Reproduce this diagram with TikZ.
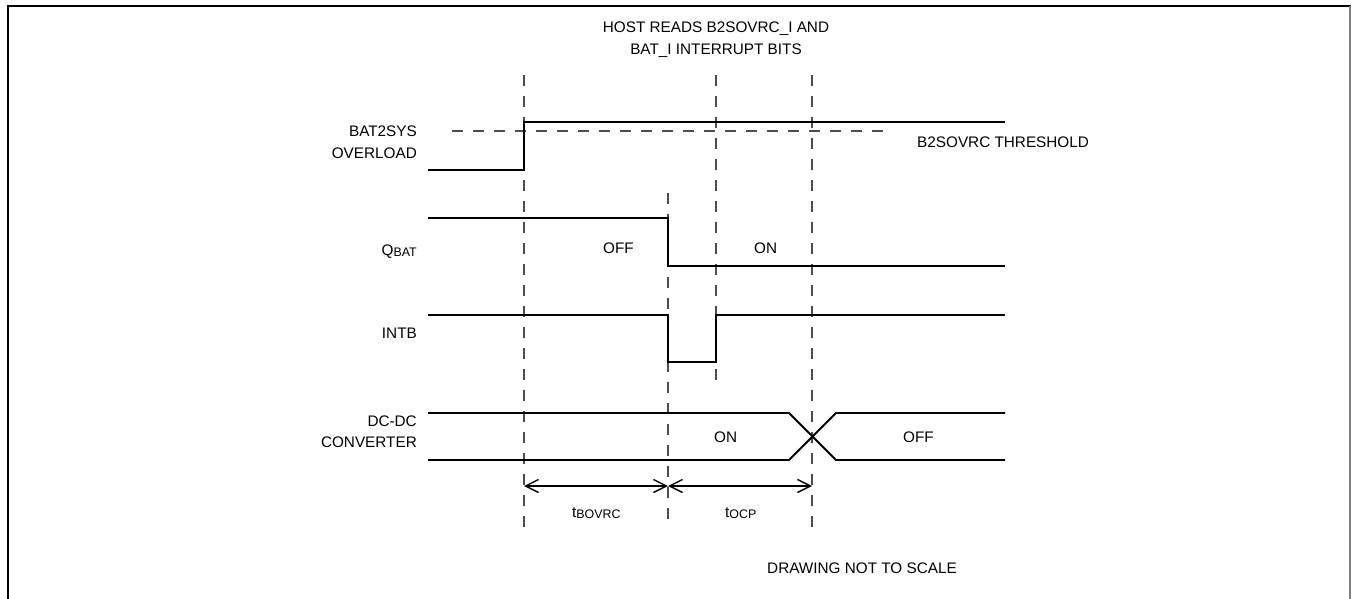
\documentclass[tikz,border=0pt]{standalone}
\usepackage{fontspec}
\setmainfont{Liberation Sans}
\usetikzlibrary{arrows.meta}
\newcommand\subtxt[1]{{\fontsize{12.4}{12}\selectfont\raisebox{-1.5pt}{#1}}}
\begin{document}
\begin{tikzpicture}[x=1pt,y=-1pt,
  sig/.style={line width=1.8pt, line join=miter},
  grid/.style={line width=1.3pt, draw=black!70, dash pattern=on 11pt off 10pt},
  lbl/.style={inner sep=0pt, font=\fontsize{15.3}{18}\selectfont},
  dim/.style={line width=1.4pt, {Straight Barb[length=13pt,width=13pt]}-{Straight Barb[length=13pt,width=13pt]}},
  frame/.style={line width=2pt}
]
\useasboundingbox (0,0) rectangle (1351,599);
% frame
\draw[frame] (8,599) -- (8,6) -- (1351,6);
\draw[line width=1.5pt, black!50] (1350,6) -- (1350,599);
% time markers
\coordinate (t1a) at (524,75);  \coordinate (t1b) at (524,530);
\coordinate (t2a) at (668,193); \coordinate (t2b) at (668,524);
\coordinate (t3a) at (716,75);  \coordinate (t3b) at (716,387);
\coordinate (t4a) at (812,75);  \coordinate (t4b) at (812,530);
\draw[grid] (t1a) -- (t1b);
\draw[grid] (t2a) -- (t2b);
\draw[grid] (t3a) -- (t3b);
\draw[grid] (t4a) -- (t4b);
% threshold
\coordinate (th1) at (452,131); \coordinate (th2) at (893,131);
\draw[grid] (th1) -- (th2);
% BAT2SYS overload
\draw[sig] (428,170) -- (524,170) -- (524,122) -- (1005,122);
% QBAT
\draw[sig] (428,218) -- (668,218) -- (668,266) -- (1005,266);
% INTB
\draw[sig] (428,315) -- (668,315) -- (668,362) -- (716,362) -- (716,315) -- (1005,315);
% DC-DC converter
\draw[sig] (428,413) -- (789,413) -- (836,460) -- (1005,460);
\draw[sig] (428,460) -- (789,460) -- (836,413) -- (1005,413);
% dimension arrows
\coordinate (d1) at (524,486); \coordinate (d2) at (668,486); \coordinate (d3) at (812,486);
\draw[dim] (d1) -- (d2);
\draw[dim] (d2) -- (d3);
% texts
\node[lbl, anchor=base] (title1) at (716,33) {HOST READS B2SOVRC\_I AND};
\node[lbl, anchor=base] (title2) at (716,55) {BAT\_I INTERRUPT BITS};
\node[lbl, anchor=base east] (ov1) at (417,136) {BAT2SYS};
\node[lbl, anchor=base east] (ov2) at (417,158) {OVERLOAD};
\node[lbl, anchor=base east] (qbat) at (417,255) {Q\subtxt{BAT}};
\node[lbl, anchor=base east] (intb) at (417,338) {INTB};
\node[lbl, anchor=base east] (dc1) at (417,426) {DC-DC};
\node[lbl, anchor=base east] (dc2) at (417,447) {CONVERTER};
\node[lbl, anchor=base west] (thr) at (917,147) {B2SOVRC THRESHOLD};
\node[lbl, anchor=base west] (qoff) at (603,253) {OFF};
\node[lbl, anchor=base west] (qon) at (754,253) {ON};
\node[lbl, anchor=base west] (dcon) at (714,442) {ON};
\node[lbl, anchor=base west] (dcoff) at (903,442) {OFF};
\node[lbl, anchor=base west] (tb) at (572,517) {t\subtxt{BOVRC}};
\node[lbl, anchor=base west] (tocp) at (725,517) {t\subtxt{OCP}};
\node[lbl, anchor=base west] (note) at (767,573) {DRAWING NOT TO SCALE};
\end{tikzpicture}
\end{document}
